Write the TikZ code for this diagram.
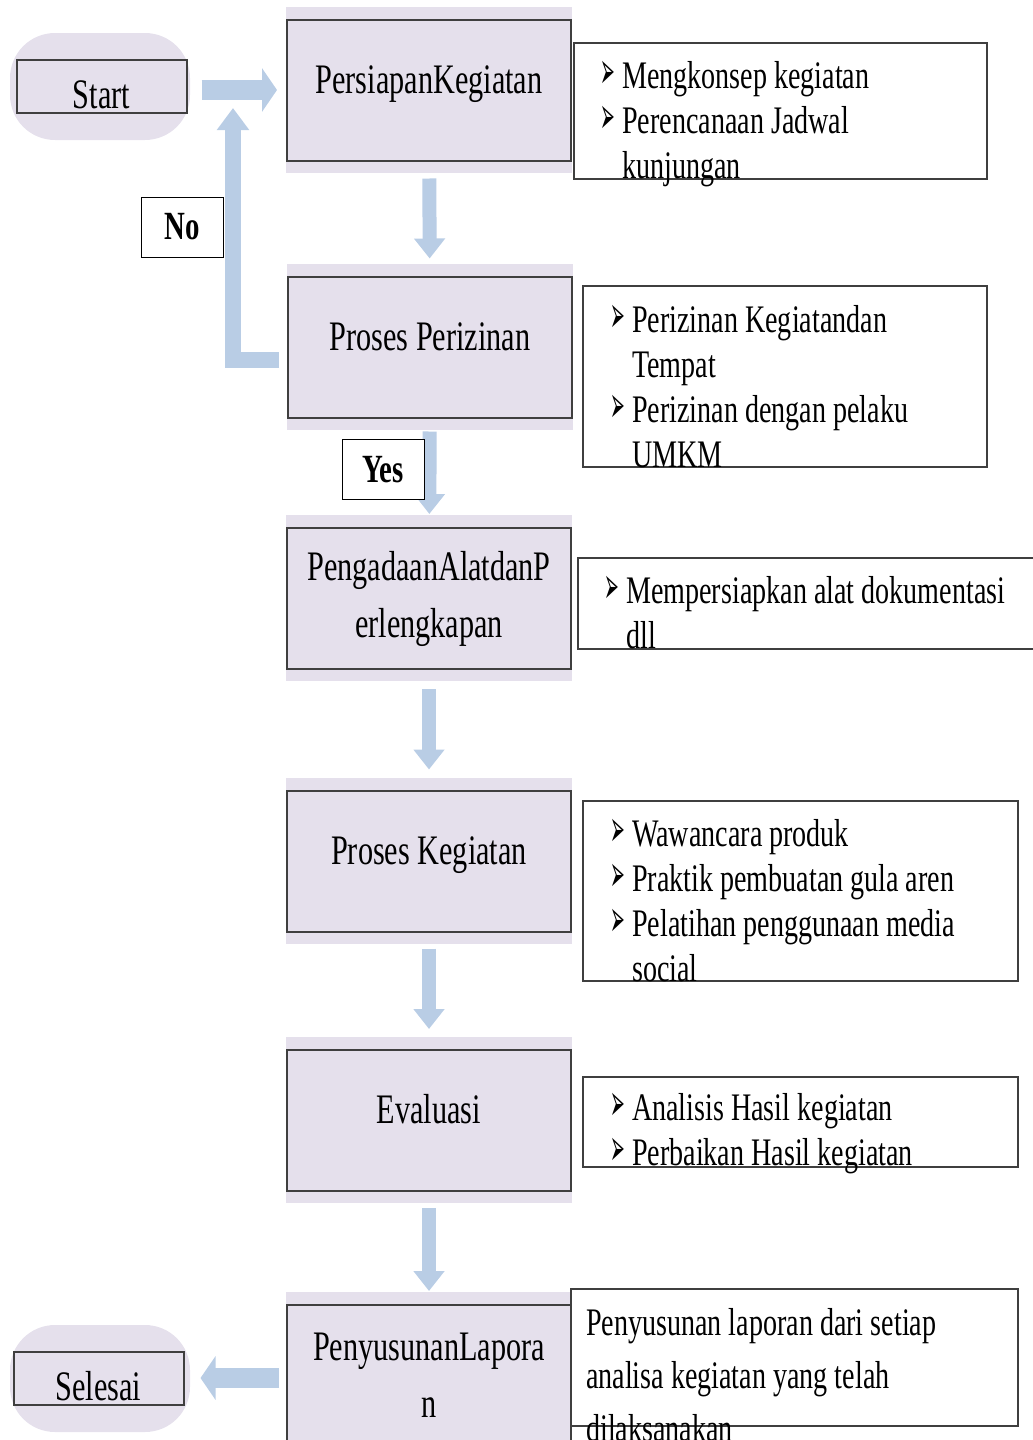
\documentclass[tikz,border=0pt]{standalone}
\usepackage{fontspec}
\setmainfont{Liberation Serif}[FakeStretch=0.72]
\newfontfamily\bltfont{DejaVu Sans}
\usetikzlibrary{arrows.meta,backgrounds}

\definecolor{lavender}{HTML}{E5E0EC}
\definecolor{arrowblue}{HTML}{B9CDE5}
\definecolor{edgegray}{HTML}{3F3F3F}

\newcommand{\blt}{\makebox[22pt][l]{\bltfont\fontsize{32}{32}\selectfont\scalebox{0.55}[1.6]{➢}}}
\newcommand{\ind}{\hspace*{22pt}}

\tikzset{stepbox/.style={draw=edgegray, line width=2pt, fill=lavender, minimum width=284pt, minimum height=141pt, inner sep=0pt, align=center, font=\fontsize{42}{57}\selectfont, text height=27pt, text depth=21pt}}
\tikzset{endbox/.style={draw=edgegray, line width=2pt, minimum width=170pt, minimum height=53pt, inner sep=0pt, font=\fontsize{42}{45}\selectfont, text height=44pt, text depth=0pt}}
\tikzset{tagbox/.style={draw=black, line width=1pt, fill=white, minimum width=82pt, minimum height=60pt, inner sep=0pt, font=\fontsize{40}{45}\selectfont\bfseries}}
\tikzset{notebox/.style={draw=edgegray, line width=1.6pt, fill=white, inner sep=0pt, anchor=north west}}
\tikzset{notetext/.style={inner sep=0pt, anchor=base west, align=left, font=\fontsize{39}{45}\selectfont}}
\tikzset{flow/.style={draw=arrowblue, line width=14pt, -{Triangle[width=30pt,length=20pt]}}}
\tikzset{sideflow/.style={draw=arrowblue, line width=20pt, -{Triangle[width=43pt,length=15pt]}}}
\tikzset{loopflow/.style={draw=arrowblue, line width=16pt, line join=miter, -{Triangle[width=31pt,length=22pt]}}}

\begin{document}
\begin{tikzpicture}[x=1pt,y=-1pt]
    \useasboundingbox (0,0) rectangle (1033,1440);

    % steps
    \node[stepbox] (b1) at (429,90) {PersiapanKegiatan};
    \node[stepbox] (b2) at (430,347) {Proses Perizinan};
    \node[stepbox, text height={}, text depth={}] (b3) at (429,598.5) {PengadaanAlatdanP\\erlengkapan};
    \node[stepbox] (b4) at (429,861) {Proses Kegiatan};
    \node[stepbox] (b5) at (429,1120.5) {Evaluasi};
    \node[stepbox, text height={}, text depth={}] (b6) at (429,1375.5) {PenyusunanLapora\\n};

    \node[endbox] (start) at (101.5,86.5) {Start};
    \node[endbox] (selesai) at (98.5,1378) {Selesai};

    \begin{scope}[on background layer]
    \foreach \b in {b1,b2,b3,b4,b5,b6} {
    \fill[lavender] ([yshift=12pt]\b.north west) rectangle ([yshift=-11pt]\b.south east);
    }
    \fill[lavender, rounded corners=45pt] (10,33) rectangle (190,140);
    \fill[lavender, rounded corners=45pt] (10,1325) rectangle (190,1432);
    \end{scope}

    % notes
    \node[notebox, minimum width=413pt, minimum height=136pt] (n1) at (573,42) {};
    \node[notebox, minimum width=404pt, minimum height=181pt] (n2) at (582,285) {};
    \node[notebox, minimum width=470pt, minimum height=91pt] (n3) at (577,557) {};
    \node[notebox, minimum width=435pt, minimum height=180pt] (n4) at (582,800) {};
    \node[notebox, minimum width=435pt, minimum height=90pt] (n5) at (582,1076) {};
    \node[notebox, minimum width=447pt, minimum height=137pt] (n6) at (570,1288) {};

    \node[notetext] (n1t) at (600,178) {\blt Mengkonsep kegiatan\\ \blt Perencanaan Jadwal\\ \ind kunjungan};
    \node[notetext] (n2t) at (610,467) {\blt Perizinan Kegiatandan\\ \ind Tempat\\ \blt Perizinan dengan pelaku\\ \ind UMKM};
    \node[notetext] (n3t) at (604,648) {\blt Mempersiapkan alat dokumentasi\\ \ind dll};
    \node[notetext] (n4t) at (610,981) {\blt Wawancara produk\\ \blt Praktik pembuatan gula aren\\ \blt Pelatihan penggunaan media\\ \ind social};
    \node[notetext] (n5t) at (610,1165) {\blt Analisis Hasil kegiatan\\ \blt Perbaikan Hasil kegiatan};
    \node[notetext, font=\fontsize{39}{53}\selectfont] (n6t) at (586,1441) {Penyusunan laporan dari setiap\\ analisa kegiatan yang telah\\ dilaksanakan};

    % arrows
    \draw[flow, shorten <=17pt, shorten >=17pt] (b1) -- (b2);
    \draw[flow, shorten <=13pt, shorten >=13pt] (b2) -- (b3);
    \draw[flow, shorten <=19pt, shorten >=20pt] (b3) -- (b4);
    \draw[flow, shorten <=16pt, shorten >=20pt] (b4) -- (b5);
    \draw[flow, shorten <=16pt, shorten >=13pt] (b5) -- (b6);
    \draw[sideflow, shorten <=14pt, shorten >=9pt] (start.east |- b1.west) -- (b1.west);
    \draw[sideflow, shorten <=7pt, shorten >=16pt] (b6.west |- selesai.east) -- (selesai.east);
    \coordinate (backup) at (233,108);
    \draw[loopflow, shorten <=8pt] ([yshift=-13pt]b2.west) -| (backup);

    \node[tagbox] (no) at (182,227) {No};
    \node[tagbox] (yes) at (383,469.5) {Yes};

\end{tikzpicture}
\end{document}
